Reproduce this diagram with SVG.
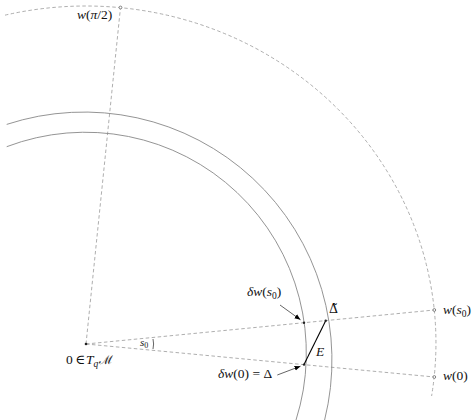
<svg xmlns="http://www.w3.org/2000/svg" width="476" height="420" viewBox="0 0 476 420">
<defs>
<marker id="ah" viewBox="0 0 10 10" refX="10" refY="5" markerWidth="6" markerHeight="6" orient="auto" markerUnits="userSpaceOnUse">
<path d="M0,1 L10,5 L0,9 Z" fill="#000"/>
</marker>
</defs>
<style>
.dash{fill:none;stroke:#999;stroke-width:0.8;stroke-dasharray:3.5 2.5}
.arc{fill:none;stroke:#888;stroke-width:0.9}
.lbl{font-family:"Liberation Serif","DejaVu Serif",serif;font-size:13.5px;fill:#111}
.it{font-style:italic}
.sub{font-size:9.5px}
.open{fill:#fff;stroke:#666;stroke-width:0.8}
.dot{fill:#222}
.ptr{stroke:#222;stroke-width:0.7;fill:none}
</style>
<rect width="476" height="420" fill="#fff"/>
<g id="connectors">
<path class="dash" d="M5,15.15 A350 337 0 0 1 431.6 396"/>
<line class="dash" x1="86" y1="344" x2="120.5" y2="7.5"/>
<line class="dash" x1="86" y1="344" x2="434.3" y2="310"/>
<line class="dash" x1="86" y1="344" x2="434.3" y2="377"/>
<path class="arc" d="M6.7,146.7 A221 221 0 0 1 296 420"/>
<path class="arc" d="M6.7,124.4 A248 248 0 0 1 324.6 420"/>
<line x1="304" y1="364.6" x2="325.7" y2="320.8" stroke="#000" stroke-width="1.1"/>
<path class="ptr" d="M153,339 Q154.2,344 153,349"/>
<line class="ptr" x1="280" y1="305" x2="300.5" y2="319.8" marker-end="url(#ah)"/>
<line class="ptr" x1="277.3" y1="375" x2="300.5" y2="366.2" marker-end="url(#ah)"/>
</g>
<g id="origin">
<circle class="dot" cx="86" cy="344" r="1.3"/>
<text class="lbl" x="66" y="364">0<tspan x="75.5">∈</tspan><tspan x="86" class="it">T</tspan><tspan class="sub it" x="93.5" dy="2.5">q</tspan><tspan x="99" dy="-2.5" style="font-family:'DejaVu Serif',serif;font-size:12px">ℳ</tspan></text>
</g>
<g id="w-pi2">
<circle class="open" cx="120.5" cy="7.5" r="1.4"/>
<text class="lbl" x="77" y="19"><tspan class="it">w</tspan>(<tspan class="it">π</tspan>/2)</text>
</g>
<g id="w-s0">
<circle class="open" cx="434.3" cy="310" r="1.4"/>
<text class="lbl" x="443" y="314"><tspan class="it">w</tspan>(<tspan class="it">s</tspan><tspan class="sub" dy="2.5">0</tspan><tspan dy="-2.5">)</tspan></text>
</g>
<g id="w-0">
<circle class="open" cx="434.3" cy="377" r="1.4"/>
<text class="lbl" x="443" y="380"><tspan class="it">w</tspan>(0)</text>
</g>
<g id="dw-s0">
<circle class="dot" cx="304" cy="322.7" r="1.2"/>
<text class="lbl" x="247" y="296"><tspan class="it">δw</tspan>(<tspan class="it">s</tspan><tspan class="sub" dy="2.5">0</tspan><tspan dy="-2.5">)</tspan></text>
</g>
<g id="delta-tilde">
<circle class="dot" cx="325.7" cy="320.8" r="1.2"/>
<text class="lbl" x="329" y="313" style="font-family:'DejaVu Serif',serif;font-size:12.5px">Δ̃</text>
</g>
<g id="delta">
<circle class="dot" cx="304" cy="364.6" r="1.2"/>
<text class="lbl" x="218" y="378"><tspan class="it">δw</tspan>(0) = Δ</text>
</g>
<g id="E">
<text class="lbl it" x="316" y="356">E</text>
</g>
<g id="angle">
<text class="lbl" x="140" y="346" style="font-size:11px"><tspan class="it">s</tspan><tspan dy="2" style="font-size:8px">0</tspan></text>
</g>
</svg>
